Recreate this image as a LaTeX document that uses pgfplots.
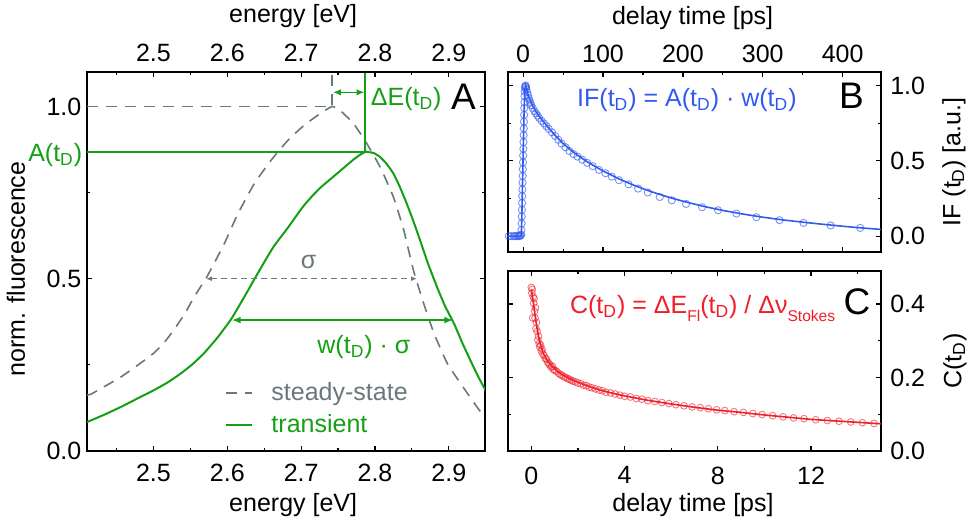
\documentclass[border=0pt]{standalone}
\usepackage{pgfplots}
\pgfplotsset{compat=1.18}
\usepackage{fontspec}
\setmainfont{Liberation Sans}
\usetikzlibrary{arrows.meta}
\definecolor{ssgray}{RGB}{105,120,120}
\definecolor{trgreen}{RGB}{20,160,20}
\definecolor{ifblue}{RGB}{50,90,240}
\definecolor{cred}{RGB}{240,30,40}
\newcommand{\tD}{t\textsubscript{D}}
\newcommand{\ssub}[1]{\raisebox{-0.32em}{\fontsize{7.8}{8}\selectfont #1}}
\newcommand{\fs}{\fontsize{12.5}{15}\selectfont}
\newcommand{\fb}{\fontsize{18.5}{20}\selectfont}
\pgfplotsset{
  mystyle/.style={
    scale only axis, tick align=inside, clip mode=individual,
    major tick length=2.6pt, minor tick length=1.6pt,
    every tick/.append style={black, line width=0.6pt},
    axis line style={line width=0.8pt},
    /pgf/number format/assume math mode=true,
    tick label style={font=\fs},
    label style={font=\fs},
  },
  onedec/.style={/pgf/number format/fixed, /pgf/number format/precision=1, /pgf/number format/fixed zerofill},
  dashA/.style={dash pattern=on 5.5pt off 4pt},
}

\pgfplotstableread{
E v
2.410 0.163
2.4155 0.165
2.436 0.190
2.456 0.215
2.478 0.248
2.501 0.285
2.518 0.324
2.533 0.368
2.545 0.408
2.555 0.447
2.573 0.508
2.596 0.602
2.614 0.687
2.636 0.774
2.659 0.843
2.681 0.899
2.697 0.932
2.708 0.952
2.725 0.978
2.742 1.000
2.753 0.988
2.771 0.950
2.789 0.892
2.807 0.824
2.825 0.737
2.839 0.641
2.852 0.525
2.866 0.428
2.880 0.341
2.898 0.254
2.916 0.196
2.938 0.128
2.952 0.090
}\steady

\pgfplotstableread{
E v
2.410 0.084
2.433 0.105
2.456 0.128
2.478 0.152
2.501 0.177
2.520 0.200
2.537 0.225
2.553 0.252
2.569 0.285
2.587 0.330
2.605 0.382
2.620 0.436
2.636 0.496
2.650 0.548
2.663 0.594
2.681 0.645
2.693 0.681
2.704 0.713
2.715 0.740
2.726 0.764
2.738 0.786
2.749 0.806
2.760 0.826
2.771 0.846
2.780 0.860
2.787 0.868
2.798 0.865
2.807 0.853
2.816 0.833
2.825 0.805
2.834 0.765
2.843 0.718
2.852 0.667
2.861 0.612
2.872 0.543
2.884 0.476
2.895 0.420
2.907 0.370
2.918 0.315
2.929 0.264
2.940 0.215
2.952 0.167
}\transient

\pgfplotstableread{
t v
-18 0.000
-15 0.000
-12 0.000
-10 0.001
-8 0.000
-6 0.002
-5 0.000
-4 0.003
-3 0.005
-2.5 0.010
-2.2 0.040
-2.0 0.085
-1.8 0.130
-1.6 0.175
-1.4 0.220
-1.2 0.265
-1.0 0.310
-0.8 0.355
-0.6 0.400
-0.4 0.445
-0.2 0.490
0.0 0.535
0.2 0.580
0.4 0.625
0.6 0.670
0.8 0.715
1.0 0.760
1.2 0.805
1.4 0.850
1.6 0.890
1.8 0.930
2.0 0.960
2.3 0.985
2.6 0.995
3.0 1.000
3.5 0.990
4 0.975
5 0.955
6 0.935
7 0.915
8 0.900
9 0.885
10 0.870
12 0.850
14 0.830
16 0.815
18 0.800
20 0.785
23 0.765
26 0.748
29 0.730
32 0.712
36 0.690
40 0.665
44 0.640
48 0.615
53 0.590
58 0.565
63 0.545
68 0.528
74 0.508
80 0.487
87 0.465
95 0.440
103 0.418
111 0.395
120 0.372
132 0.344
144 0.316
156 0.290
171 0.260
186 0.238
204 0.214
224 0.192
244 0.172
267 0.150
292 0.126
321 0.106
351 0.088
385 0.071
422 0.055
}\IFdata

\pgfplotstableread{
t v
-19 0
-2.5 0
-2 0.05
-1 0.30
0 0.55
1 0.80
2 0.96
3 1.00
4 0.985
6 0.940
10 0.885
15 0.835
20 0.795
30 0.730
40 0.670
50 0.615
60 0.570
70 0.530
80 0.495
90 0.463
100 0.433
120 0.380
140 0.335
160 0.296
180 0.262
200 0.232
225 0.199
250 0.171
275 0.147
300 0.126
325 0.108
350 0.093
375 0.079
400 0.066
425 0.054
448 0.045
}\IFfit

\pgfplotstableread{
t v
0.00 0.445
0.02 0.430
0.04 0.440
0.06 0.362
0.08 0.420
0.10 0.402
0.12 0.415
0.14 0.380
0.16 0.362
0.18 0.390
0.20 0.333
0.22 0.350
0.25 0.325
0.28 0.302
0.31 0.312
0.34 0.292
0.37 0.283
0.40 0.288
0.43 0.272
0.46 0.277
0.50 0.264
0.55 0.260
0.60 0.252
0.65 0.250
0.70 0.242
0.75 0.238
0.80 0.234
0.85 0.228
0.90 0.231
0.95 0.222
1.00 0.220
1.08 0.217
1.16 0.212
1.24 0.208
1.32 0.206
1.40 0.202
1.48 0.200
1.56 0.197
1.64 0.195
1.72 0.192
1.80 0.190
1.90 0.188
2.00 0.185
2.12 0.183
2.24 0.179
2.36 0.178
2.48 0.174
2.60 0.172
2.75 0.169
2.90 0.166
3.05 0.164
3.20 0.160
3.40 0.158
3.60 0.155
3.80 0.152
4.00 0.149
4.25 0.147
4.50 0.143
4.75 0.141
5.00 0.137
5.30 0.135
5.60 0.132
5.90 0.129
6.20 0.126
6.55 0.123
6.90 0.120
7.25 0.118
7.60 0.115
7.95 0.112
8.30 0.110
8.70 0.107
9.10 0.105
9.50 0.102
9.90 0.099
10.35 0.096
10.80 0.093
11.25 0.090
11.70 0.088
12.20 0.085
12.70 0.083
13.20 0.081
13.70 0.079
14.20 0.077
14.70 0.075
}\Cdata

\pgfplotstableread{
t v
0 0.440
0.05 0.420
0.1 0.398
0.15 0.375
0.2 0.352
0.25 0.333
0.3 0.315
0.35 0.300
0.4 0.288
0.5 0.268
0.6 0.255
0.7 0.245
0.8 0.237
0.9 0.230
1.0 0.224
1.2 0.213
1.4 0.205
1.6 0.198
1.8 0.192
2.0 0.187
2.5 0.175
3.0 0.165
3.5 0.157
4.0 0.150
4.5 0.144
5.0 0.138
6 0.128
7 0.119
8 0.111
9 0.105
10 0.098
11 0.092
12 0.086
13 0.082
14 0.078
15 0.074
}\Cfit

\begin{document}
\begin{tikzpicture}
\useasboundingbox (0,0) rectangle (488pt,261.5pt);

% ---------------- Panel A ----------------
\begin{axis}[mystyle,
  at={(43.5pt,36pt)}, anchor=south west, width=199pt, height=189.5pt,
  xmin=2.41, xmax=2.949, ymin=0, ymax=1.1,
  xtick={2.5,2.6,2.7,2.8,2.9}, minor xtick={2.45,2.55,2.65,2.75,2.85},
  ytick={0,0.5,1}, minor ytick={0.25,0.75},
  xticklabel style={yshift=-2.8pt, onedec},
  yticklabel style={xshift=0.7pt, onedec},
  xlabel={energy [eV]}, ylabel={norm. fluorescence},
  xlabel style={at={(axis description cs:0.518,0)}, yshift=-27pt, anchor=center},
  ylabel style={at={(axis description cs:0,0.48)}, anchor=center, yshift=35.5pt},
  legend style={at={(axis cs:2.597,0.212)}, anchor=north west, draw=none, fill=none,
    font=\fs, inner sep=0pt, row sep=1.5pt},
  legend cell align=left,
  legend image code/.code={\draw[#1] (0pt,0pt) -- (13pt,0pt);},
]
\addplot[ssgray, dashA, line width=0.8pt, smooth, tension=0.3] table[x=E,y=v] {\steady};
\addlegendentry{\hspace{7pt}\textcolor{ssgray}{steady-state}}
\addplot[trgreen, line width=1pt, smooth, tension=0.3] table[x=E,y=v] {\transient};
\addlegendentry{\hspace{7pt}\textcolor{trgreen}{transient}}
% guide lines
\addplot[ssgray, dashA, line width=0.8pt, forget plot] coordinates {(2.41,1) (2.742,1) (2.742,1.1)};
\addplot[trgreen, line width=0.9pt, forget plot] coordinates {(2.41,0.868) (2.787,0.868) (2.787,1.1)};
% arrows
\addplot[trgreen, line width=0.8pt, {Latex[length=4pt,width=3.2pt]}-{Latex[length=4pt,width=3.2pt]}, forget plot]
  coordinates {(2.743,1.041) (2.786,1.041)};
\addplot[ssgray, dash pattern=on 3pt off 2pt, line width=0.6pt, {Latex[length=3pt,width=2.4pt]}-{Latex[length=3pt,width=2.4pt]}, forget plot]
  coordinates {(2.571,0.5) (2.857,0.5)};
\addplot[trgreen, line width=0.9pt, {Latex[length=4.5pt,width=3.5pt]}-{Latex[length=4.5pt,width=3.5pt]}, forget plot]
  coordinates {(2.606,0.38) (2.906,0.38)};
% labels
\node[trgreen, font=\fs, anchor=base west, inner sep=0pt] at (axis cs:2.794,1.003) {ΔE(\tD)};
\node[font=\fb, anchor=base, inner sep=0pt] at (axis cs:2.920,0.99) {A};
\node[trgreen, font=\fs, anchor=base east, inner sep=0pt] at (axis cs:2.404,0.84) {A(\tD)};
\node[ssgray, font=\fs, anchor=base, inner sep=0pt] at (axis cs:2.710,0.53) {σ};
\node[trgreen, font=\fs, anchor=base, inner sep=0pt] at (axis cs:2.785,0.283) {w(\tD) · σ};
\end{axis}

% top axis of panel A
\begin{axis}[mystyle,
  at={(43.5pt,36pt)}, anchor=south west, width=199pt, height=189.5pt,
  xmin=2.41, xmax=2.949, ymin=0, ymax=1.1,
  axis x line*=top, axis y line=none, ytick=\empty,
  xtick={2.5,2.6,2.7,2.8,2.9}, minor xtick={2.45,2.55,2.65,2.75,2.85},
  xticklabel style={yshift=1.8pt, onedec},
  xlabel={energy [eV]},
  xlabel style={at={(axis description cs:0.518,1)}, yshift=28pt, anchor=center},
]
\addplot[draw=none] coordinates {(2.5,0.5)};
\end{axis}

% ---------------- Panel B ----------------
\begin{axis}[mystyle,
  at={(254pt,135.5pt)}, anchor=south west, width=186.5pt, height=90pt,
  xmin=-19, xmax=448, ymin=-0.105, ymax=1.09,
  xtick={0,100,200,300,400}, minor xtick={50,150,250,350},
  ytick={0,0.5,1}, minor ytick={0.25,0.75},
  xticklabel pos=upper, yticklabel pos=right,
  xticklabel style={yshift=1.3pt},
  yticklabel style={xshift=1.1pt, onedec},
  xlabel={delay time [ps]}, ylabel={IF (\tD) [a.u.]},
  xlabel style={at={(axis description cs:0.495,1)}, yshift=27pt, anchor=center},
  ylabel style={at={(axis description cs:1,0.5)}, anchor=center, yshift=-36.5pt},
]
\addplot[ifblue, only marks, mark=o, mark size=1.8pt, mark options={line width=0.45pt, opacity=0.65}] table[x=t,y=v] {\IFdata};
\addplot[ifblue, line width=0.8pt] table[x=t,y=v] {\IFfit};
\node[ifblue, font=\fs, anchor=base, inner sep=0pt] at (axis cs:205,0.86) {IF(\tD) = A(\tD) · w(\tD)};
\node[font=\fb, anchor=base, inner sep=0pt] at (axis cs:411,0.85) {B};
\end{axis}

% ---------------- Panel C ----------------
\begin{axis}[mystyle,
  at={(254pt,36pt)}, anchor=south west, width=186.5pt, height=90pt,
  xmin=-1, xmax=15, ymin=0, ymax=0.49,
  xtick={0,4,8,12}, minor xtick={2,6,10,14},
  ytick={0,0.2,0.4}, minor ytick={0.1,0.3},
  yticklabel pos=right,
  xticklabel style={yshift=-4.3pt},
  yticklabel style={xshift=1.1pt, onedec},
  xlabel={delay time [ps]}, ylabel={C(\tD)},
  xlabel style={at={(axis description cs:0.496,0)}, yshift=-27pt, anchor=center},
  ylabel style={at={(axis description cs:1,0.5)}, anchor=center, yshift=-37pt},
]
\addplot[cred, only marks, mark=o, mark size=1.7pt, mark options={line width=0.45pt, opacity=0.6}] table[x=t,y=v] {\Cdata};
\addplot[cred, line width=0.8pt] table[x=t,y=v] {\Cfit};
\node[cred, font=\fs, anchor=base, inner sep=0pt] at (axis cs:7.35,0.375) {C(\tD) = ΔE\ssub{Fl}(\tD) / Δν\ssub{Stokes}};
\node[font=\fb, anchor=base, inner sep=0pt] at (axis cs:13.97,0.372) {C};
\end{axis}
\end{tikzpicture}
\end{document}
